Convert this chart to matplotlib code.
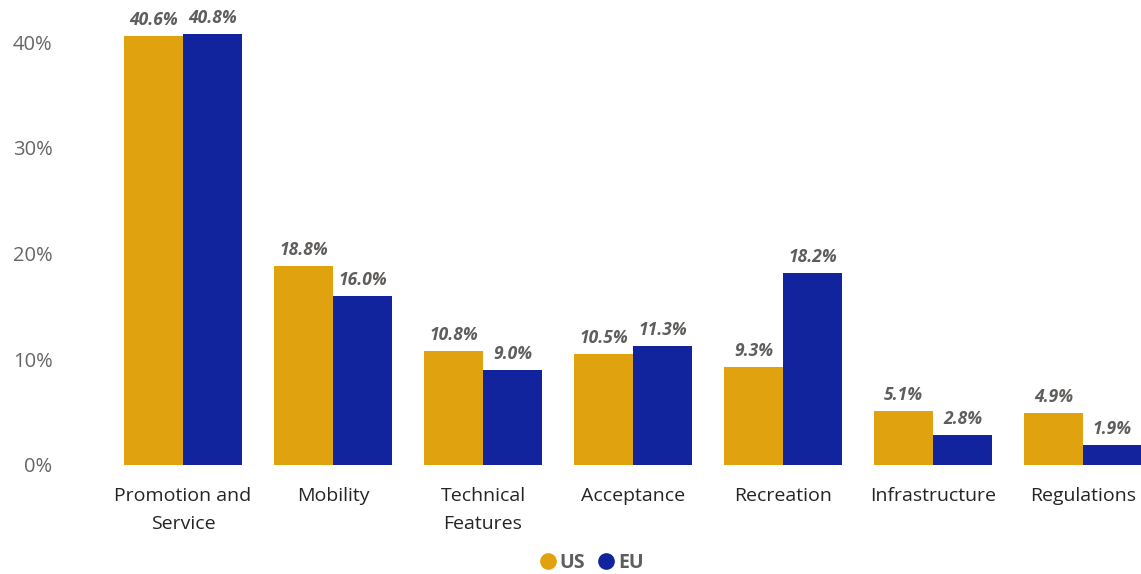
import numpy as np
import matplotlib.pyplot as plt
from matplotlib.lines import Line2D
from matplotlib.ticker import FuncFormatter

categories = ["Promotion and\nService", "Mobility", "Technical\nFeatures", "Acceptance",
              "Recreation", "Infrastructure", "Regulations"]
us = [40.6, 18.8, 10.8, 10.5, 9.3, 5.1, 4.9]
eu = [40.8, 16.0, 9.0, 11.3, 18.2, 2.8, 1.9]
yticks = [0, 10, 20, 30, 40]

us_color = "#E0A20E"
eu_color = "#12239E"
label_color = "#605E5C"

plt.rcParams['font.family'] = ['Open Sans', 'DejaVu Sans']

W, H = 1141, 574
fig = plt.figure(figsize=(W / 100, H / 100), dpi=100)
# axes in pixel coordinates: left 108, right 1141, bottom 465, top 0
ax = fig.add_axes([108 / W, (H - 465) / H, (1141 - 108) / W, 465 / H])

x = np.arange(len(categories))
bw = 59 / 150
b1 = ax.bar(x - bw / 2, us, bw, color=us_color, label="US")
b2 = ax.bar(x + bw / 2, eu, bw, color=eu_color, label="EU")

for bars, vals in ((b1, us), (b2, eu)):
    for rect, v in zip(bars, vals):
        ax.annotate(f"{v:.1f}%", (rect.get_x() + rect.get_width() / 2, v),
                    xytext=(0, 5), textcoords="offset points", ha="center", va="bottom",
                    fontsize=12.5, fontweight="bold", fontstyle="italic", color=label_color)

ax.set_xlim(-0.5, 6 + 58 / 150)
ax.set_ylim(0, 465 / 10.575)
ax.set_yticks(yticks)
ax.yaxis.set_major_formatter(FuncFormatter(lambda v, p: f"{v:.0f}%"))
ax.set_xticks(x)
ax.set_xticklabels(categories, fontsize=14, color="#252423", linespacing=1.7)
ax.tick_params(axis="y", labelsize=14.5, labelcolor="#666666", length=0, pad=40)
ax.tick_params(axis="x", length=0, pad=16)
for s in ax.spines.values():
    s.set_visible(False)

handles = [Line2D([], [], marker="o", linestyle="", markersize=11, color=us_color),
           Line2D([], [], marker="o", linestyle="", markersize=11, color=eu_color)]
leg = fig.legend(handles, ["US", "EU"], loc="center", bbox_to_anchor=(586 / W, 1 - 563 / H),
                 ncol=2, frameon=False, handletextpad=-0.4, columnspacing=0.1,
                 prop={"weight": "bold", "size": 14})
for t in leg.get_texts():
    t.set_color(label_color)

fig.savefig("out.png", dpi=100)
